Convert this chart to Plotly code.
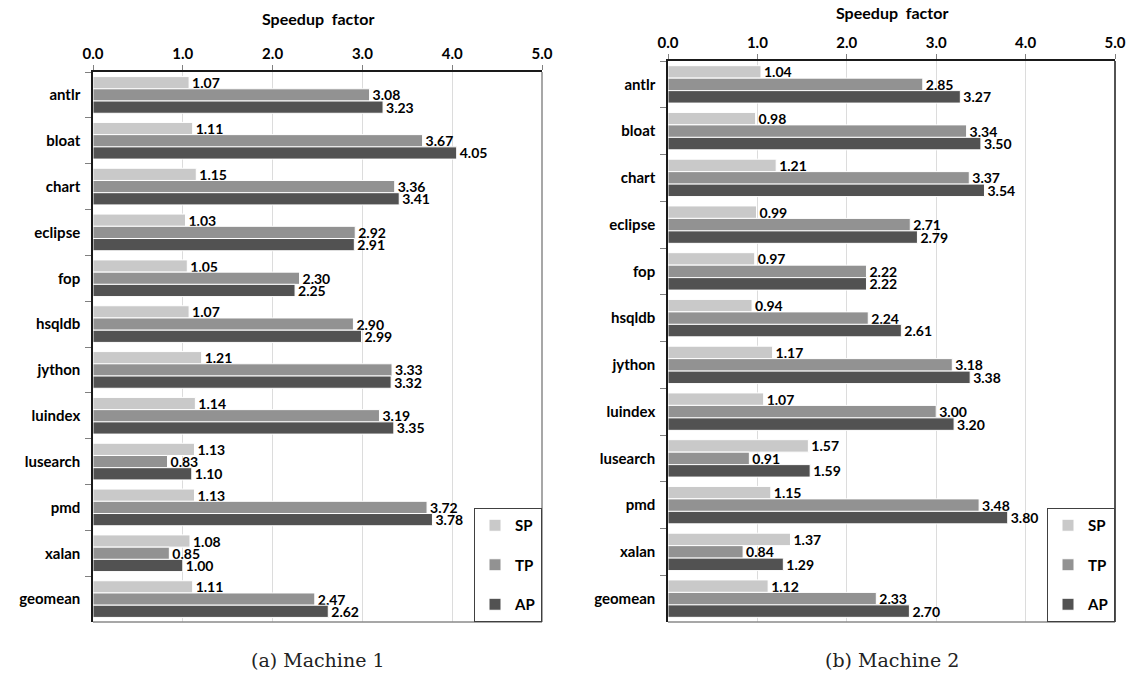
import plotly.graph_objects as go

W, H = 1133, 677

benchmarks = ["antlr", "bloat", "chart", "eclipse", "fop", "hsqldb", "jython",
              "luindex", "lusearch", "pmd", "xalan", "geomean"]
series_names = ["SP", "TP", "AP"]
series_colors = ["#c9c9c9", "#929292", "#525252"]

m1_sp = [1.07, 1.11, 1.15, 1.03, 1.05, 1.07, 1.21, 1.14, 1.13, 1.13, 1.08, 1.11]
m1_tp = [3.08, 3.67, 3.36, 2.92, 2.30, 2.90, 3.33, 3.19, 0.83, 3.72, 0.85, 2.47]
m1_ap = [3.23, 4.05, 3.41, 2.91, 2.25, 2.99, 3.32, 3.35, 1.10, 3.78, 1.00, 2.62]

m2_sp = [1.04, 0.98, 1.21, 0.99, 0.97, 0.94, 1.17, 1.07, 1.57, 1.15, 1.37, 1.12]
m2_tp = [2.85, 3.34, 3.37, 2.71, 2.22, 2.24, 3.18, 3.00, 0.91, 3.48, 0.84, 2.33]
m2_ap = [3.27, 3.50, 3.54, 2.79, 2.22, 2.61, 3.38, 3.20, 1.59, 3.80, 1.29, 2.70]

x_ticks = [0, 1, 2, 3, 4, 5]
x_tick_labels = ["0.0", "1.0", "2.0", "3.0", "4.0", "5.0"]
axis_title = "Speedup  factor"
captions = ["(a) Machine 1", "(b) Machine 2"]

FONT = "Lato, 'Open Sans', sans-serif"

fig = go.Figure()

panels = [
    (m1_sp, m1_tp, m1_ap, "x", "y", "legend", "1"),
    (m2_sp, m2_tp, m2_ap, "x2", "y2", "legend2", "2"),
]
for sp, tp, ap, xa, ya, leg, tag in panels:
    for name, vals, col in zip(series_names, [sp, tp, ap], series_colors):
        fig.add_trace(go.Bar(
            y=benchmarks, x=vals, name=name, orientation="h",
            marker=dict(color=col, line=dict(color="white", width=1)),
            texttemplate="%{x:.2f}", textposition="outside",
            textfont=dict(family=FONT, size=14, color="black", weight=700),
            cliponaxis=False, constraintext="none",
            xaxis=xa, yaxis=ya, legend=leg, legendgroup=name + tag,
        ))

def px_x(p):
    return p / W

def px_y(p):
    return 1 - p / H

dom_x1 = [px_x(93), px_x(542)]
dom_x2 = [px_x(668), px_x(1115)]
dom_y1 = [px_y(622), px_y(72)]
dom_y2 = [px_y(622), px_y(61)]

xcommon = dict(range=[0, 5], tickvals=x_ticks, ticktext=x_tick_labels, side="top",
               showgrid=True, gridcolor="#dcdcdc", gridwidth=1,
               ticks="outside", ticklen=5, tickcolor="#808080",
               showline=True, linecolor="#1a1a1a", linewidth=1.5,
               tickfont=dict(family=FONT, size=15, color="black", weight=700),
               zeroline=False, fixedrange=True, automargin=False)
ycommon = dict(type="category", categoryorder="array", categoryarray=benchmarks,
               autorange="reversed", showgrid=False,
               ticks="outside", ticklen=6, tickcolor="#808080", tickson="boundaries",
               showline=True, linecolor="#1a1a1a", linewidth=1.5,
               tickfont=dict(family=FONT, size=15, color="black", weight=700),
               ticklabelstandoff=8, fixedrange=True, automargin=False)

legcommon = dict(bgcolor="white", bordercolor="#404040", borderwidth=1,
                 font=dict(family=FONT, size=15, color="black", weight=700),
                 tracegroupgap=17, xanchor="right", yanchor="bottom",
                 itemwidth=30)

fig.update_layout(
    width=W, height=H,
    margin=dict(l=0, r=0, t=0, b=0, pad=0, autoexpand=False),
    paper_bgcolor="white", plot_bgcolor="white",
    barmode="group", bargap=0.2, bargroupgap=0.0,
    showlegend=True,
    xaxis=dict(domain=dom_x1, anchor="y", **xcommon),
    yaxis=dict(domain=dom_y1, anchor="x", **ycommon),
    xaxis2=dict(domain=dom_x2, anchor="y2", **xcommon),
    yaxis2=dict(domain=dom_y2, anchor="x2", **ycommon),
    legend=dict(x=dom_x1[1], y=dom_y1[0], **legcommon),
    legend2=dict(x=dom_x2[1], y=dom_y2[0], **legcommon),
)

# frame lines on right and bottom of each panel
for xa, ya, rcol in [("x", "y", "#8a8a8a"), ("x2", "y2", "#1a1a1a")]:
    fig.add_shape(type="line", xref=f"{xa} domain", yref=f"{ya} domain",
                  x0=1, x1=1, y0=0, y1=1, line=dict(color=rcol, width=1.5))
    fig.add_shape(type="line", xref=f"{xa} domain", yref=f"{ya} domain",
                  x0=0, x1=1, y0=0, y1=0, line=dict(color="#8a8a8a", width=1.5))

# axis titles and captions
for (d, ytitle), cap in zip([(dom_x1, px_y(19)), (dom_x2, px_y(12))], captions):
    cx = (d[0] + d[1]) / 2
    fig.add_annotation(text=axis_title, xref="paper", yref="paper", x=cx, y=ytitle,
                       xanchor="center", yanchor="middle", showarrow=False,
                       font=dict(family=FONT, size=16, color="black", weight=700))
    fig.add_annotation(text=cap, xref="paper", yref="paper", x=cx, y=px_y(660),
                       xanchor="center", yanchor="middle", showarrow=False,
                       font=dict(family="'DejaVu Serif', serif", size=19, color="#222222"))

fig.write_html(
    "out.html",
    config={"displayModeBar": False},
    post_script="document.body.style.margin='0';document.body.style.overflow='hidden';",
)
